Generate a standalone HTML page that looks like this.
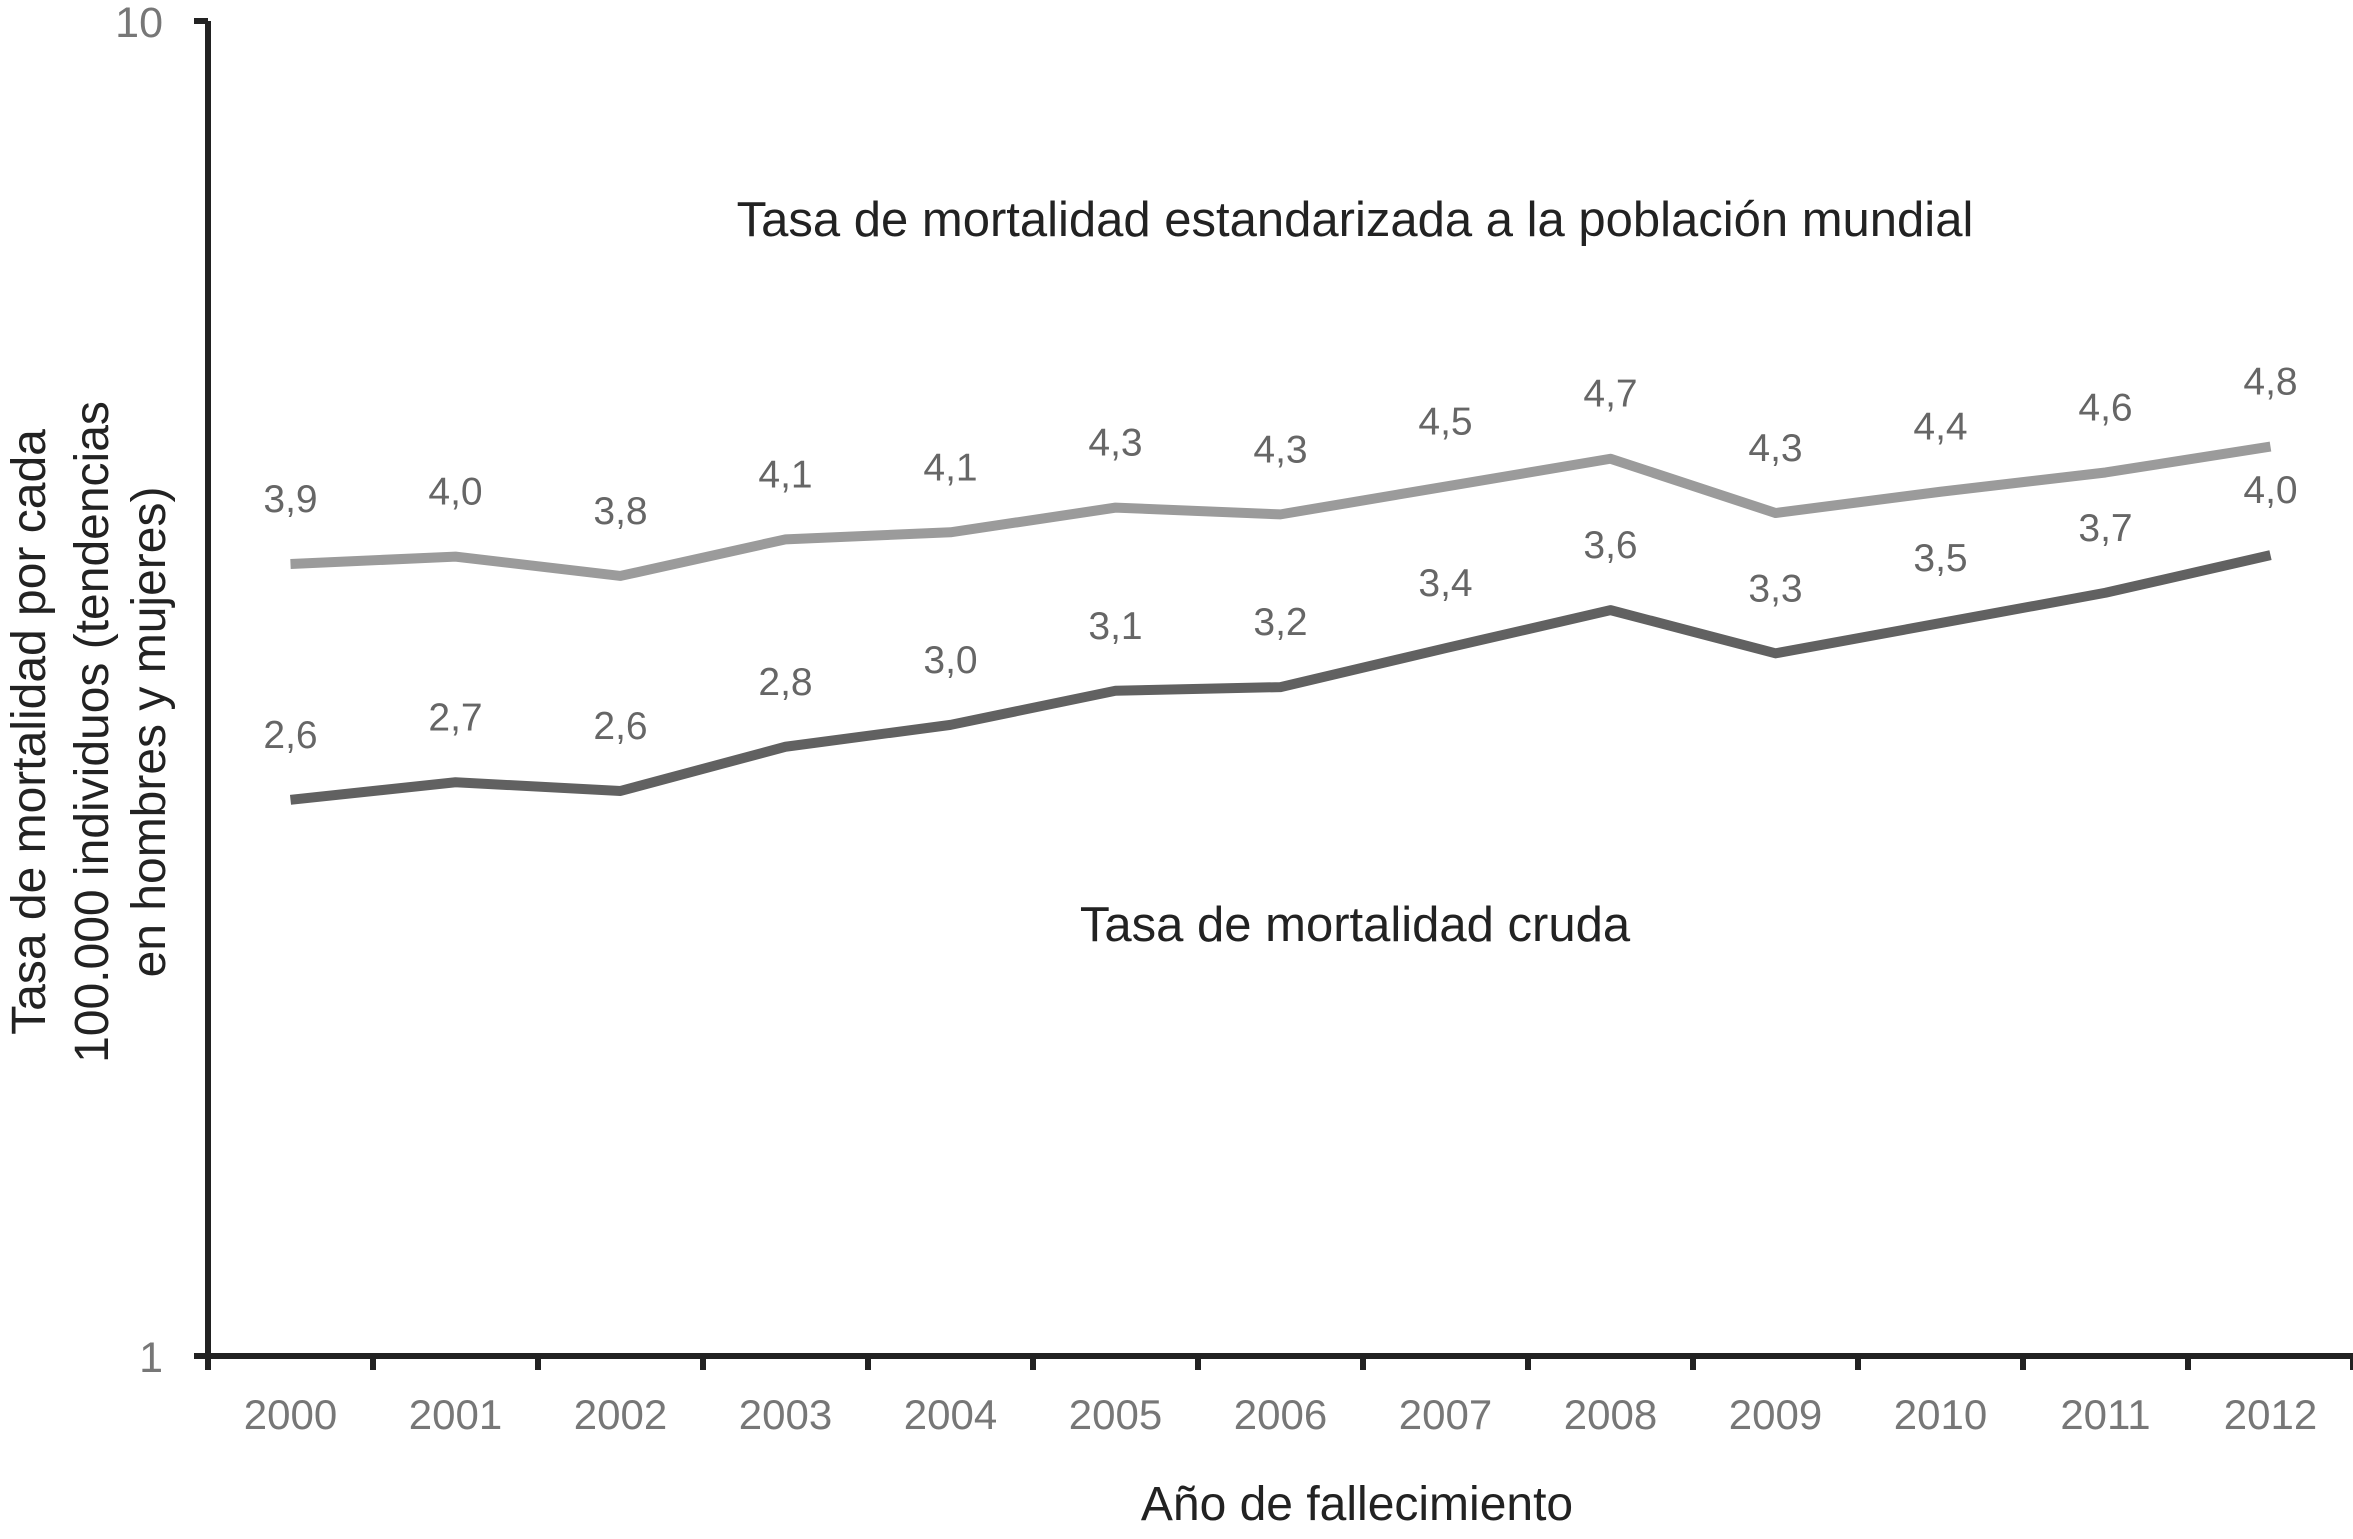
<!DOCTYPE html>
<html><head><meta charset="utf-8"><style>
html,body{margin:0;padding:0;background:#fff;}
svg text{font-family:"Liberation Sans",Arial,sans-serif;}
</style></head><body>
<svg id="chart" width="2353" height="1534" viewBox="0 0 2353 1534" xmlns="http://www.w3.org/2000/svg">
<g id="axes"></g>
<g id="series"></g>
<text x="1355" y="236" font-size="49" fill="#222" text-anchor="middle">Tasa de mortalidad estandarizada a la población mundial</text>
<text x="1355" y="941" font-size="49" fill="#222" text-anchor="middle">Tasa de mortalidad cruda</text>
<text x="1357" y="1520" font-size="48" fill="#222" text-anchor="middle">Año de fallecimiento</text>
<g transform="translate(93,732) rotate(-90)" font-size="48" fill="#222" text-anchor="middle">
<text x="0" y="-48">Tasa de mortalidad por cada</text>
<text x="0" y="15">100.000 individuos (tendencias</text>
<text x="0" y="72">en hombres y mujeres)</text>
</g>
</svg>
<script>
const years = ["2000","2001","2002","2003","2004","2005","2006","2007","2008","2009","2010","2011","2012"];
const standardized = [3.92,3.97,3.84,4.09,4.14,4.32,4.27,4.48,4.70,4.28,4.44,4.59,4.80];
const standardizedLabels = ["3,9","4,0","3,8","4,1","4,1","4,3","4,3","4,5","4,7","4,3","4,4","4,6","4,8"];
const crude = [2.61,2.69,2.65,2.86,2.97,3.15,3.17,3.39,3.62,3.36,3.54,3.73,3.98];
const crudeLabels = ["2,6","2,7","2,6","2,8","3,0","3,1","3,2","3,4","3,6","3,3","3,5","3,7","4,0"];
const yTicks = [1,10];

const NS="http://www.w3.org/2000/svg";
const X0=208, STEP=165, Y0=1356, Y1=21;
function xPos(i){return X0+STEP/2+STEP*i;}
function yPos(v){return Y0-(Y0-Y1)*Math.log10(v);}
function mk(tag,attrs,parent){const e=document.createElementNS(NS,tag);for(const k in attrs)e.setAttribute(k,attrs[k]);parent.appendChild(e);return e;}
const axes=document.getElementById('axes'), series=document.getElementById('series');

const ya=mk('line',{x1:X0,y1:Y1,x2:X0,y2:Y0+3,stroke:'#222','stroke-width':6},axes);


const xa=mk('line',{x1:X0-14,y1:Y0,x2:2353,y2:Y0,stroke:'#222','stroke-width':6},axes);


yTicks.forEach(v=>{
  const y=yPos(v);
  const t=mk('line',{x1:X0-14,y1:y,x2:X0,y2:y,stroke:'#222','stroke-width':6},axes);
  
  
  const l=mk('text',{x:163,y:y+16,'font-size':43,fill:'#777','text-anchor':'end'},axes);
  l.textContent=String(v);
  
  
});
for(let i=0;i<=years.length;i++){
  const x=X0+STEP*i;
  const t=mk('line',{x1:x,y1:Y0,x2:x,y2:Y0+14,stroke:'#222','stroke-width':6},axes);
  
  
}
years.forEach((yr,i)=>{
  const l=mk('text',{x:xPos(i),y:1429,'font-size':42,fill:'#777','text-anchor':'middle'},axes);
  l.textContent=yr;
  
  
});
function drawSeries(vals,labels,color,name){
  const p=mk('polyline',{points:vals.map((v,i)=>xPos(i)+','+yPos(v)).join(' '),fill:'none',stroke:color,'stroke-width':10,'stroke-linejoin':'round'},series);
  
  
  vals.forEach((v,i)=>{
    const t=mk('text',{x:xPos(i),y:yPos(v)-52,'font-size':39,fill:'#666','text-anchor':'middle'},series);
    t.textContent=labels[i];
    
    
  });
}
drawSeries(standardized,standardizedLabels,'#9b9b9b','standardized');
drawSeries(crude,crudeLabels,'#616161','crude');
</script>
</body></html>
